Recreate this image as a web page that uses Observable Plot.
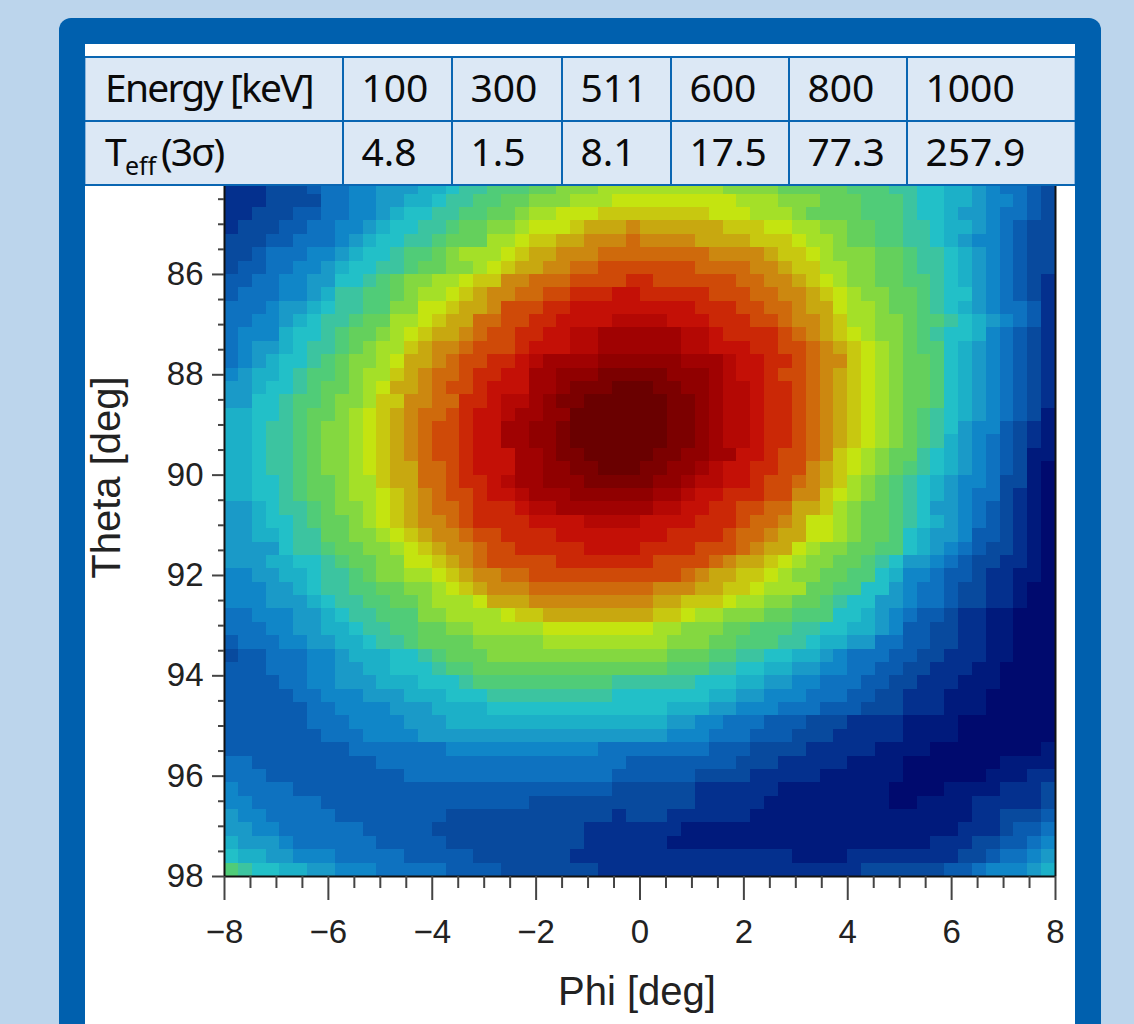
<!DOCTYPE html>
<html>
<head>
<meta charset="utf-8">
<script src="https://cdn.jsdelivr.net/npm/d3@7"></script>
<script src="https://cdn.jsdelivr.net/npm/@observablehq/plot@0.6"></script>
<style>
html,body{margin:0;padding:0;width:1134px;height:1024px;overflow:hidden;background:#bcd5ec;}
#panel{position:absolute;left:59px;top:18px;width:1042px;height:1030px;background:#0060ae;border-radius:12px;}
#inner{position:absolute;left:85px;top:44px;width:990px;height:980px;background:#fff;}
#tbl{position:absolute;left:0;top:12px;width:989px;height:130px;border-collapse:collapse;table-layout:fixed;font-family:"Noto Sans",sans-serif;font-size:39px;color:#0a0a0a;background:#dce8f5;}
#tbl td{border:2px solid #0a66b2;padding:0 0 5px 18px;height:63px;line-height:1;white-space:nowrap;box-sizing:border-box;}
#tbl tr td:first-child{border-left:1px solid #8fb6dc;padding-left:19px;letter-spacing:-1.8px;}
#tbl tr td:last-child{border-right:1px solid #8fb6dc;}
#tbl sub{font-size:25px;line-height:0;letter-spacing:0;}
#chart{position:absolute;left:0;top:142px;}
#chart svg{display:block;background:#fff;}
</style>
</head>
<body>
<div id="panel"></div>
<div id="inner">
  <table id="tbl">
    <colgroup id="cols"></colgroup>
    <tbody id="tb"></tbody>
  </table>
  <div id="chart"></div>
</div>
<script>
const energies = ["100","300","511","600","800","1000"];
const teff = ["4.8","1.5","8.1","17.5","77.3","257.9"];
const tableColumnWidths = [257,109,110,109,118,118,168];

const xMajorTicks = [-8,-6,-4,-2,0,2,4,6,8];
const xMinorTicks = [-7.5,-7,-6.5,-5.5,-5,-4.5,-3.5,-3,-2.5,-1.5,-1,-0.5,0.5,1,1.5,2.5,3,3.5,4.5,5,5.5,6.5,7,7.5];
const yMajorTicks = [86,88,90,92,94,96,98];
const yMinorTicks = [84.5,85,85.5,86.5,87,87.5,88.5,89,89.5,90.5,91,91.5,92.5,93,93.5,94.5,95,95.5,96.5,97,97.5];

const levelCodes = "abcdefghijklmnopqrstuvwAxyBz".split("");
const levelColors = ["#000a6e","#001a7c","#04308e","#084a9e","#0a5cb0","#0e72c0","#1086c8","#1a9ac8","#1cb0c8","#22c0c8","#3cc4a0","#50cc78","#64d05c","#84d840","#a4e028","#c4e410","#c8c810","#c8a810","#cc8810","#cf6a0c","#cf4a08","#cb2806","#c41006","#b40804","#a00202","#900000","#7c0000","#6a0000"];

// Intensity level per bin. Top visible row first; Phi -8..0 then 0..8.
const rowsLeft = [
"cccdddeffgghhhiijkklllmmnnnooo",
"cccddddffgghhiijkkllmmnnnooopp",
"ccdddeeffgghijjkkllmmnoopppqqq",
"cdddeeffgghijjkklmmnnopppqrrrs",
"dddeefffghijjkklmmmoopqqrrssst",
"ddefffgghijjkllmnooopqrrsssttt",
"deeffgghijjkklmmnnopqrrssttuuu",
"eeffgghhjjklmnnoopqqsstttuuuuv",
"efffgghikkllmnoopqrssttuuvvvww",
"fffghhijkkllnnppqrrsuuuvvwwwww",
"ffgghijkklmmoopqrrttuuvvwwwwAA",
"fgggijjklmmnopqrrstuuvvwwAAxxx",
"fghhijkklmnooqrsstuuuvwwwAAxxx",
"fghijjklmnnoprrstuuvvwAxxxxyyy",
"ghiijkllmnooqrsttuvvwwxxyyyBBB",
"hhijjklmmnoprrstuuvwwwxxyBBBzz",
"hhjjkllmnnoqqssttvvwAAxyBBzzzz",
"iijjklmmnopqrsttuvwwAxxyyzzzzz",
"iijkklmnnopqrstuuvwwxxyyBzzzzz",
"iijkklmnnopqrstuuvwwxxyyBzzzzz",
"iijkklmnnopqrstuuvwwwxxyBBzzzz",
"iijkklmnnopqrrttuvwwwxxyyBBzzz",
"iijjklmmnooqrrttuvvwAxxyyyBBBB",
"iijjklmmnoopqrstuuvwwAxxxyyyyy",
"hhijkklmnnopqrsttuvvvwAAxxxxxx",
"hhijjklmmnopqrsstuvvvvwwwwAAAA",
"hhiijkkmmnnopqrsstuuvvvvwwwwww",
"hhhhjkklmmnnopqrsstuuvvvvvwwww",
"hhhiijjklmmnnppqrstuuuuuvvvvvv",
"gghhiijkklmnnoopqrssttuuuuuuuu",
"ggghhijkkllmmnnopqrssstttttttt",
"ggghhhijkkllmmnoooprrrssssssss",
"ffggghhijkklllnnoooopqqrrrrrrr",
"fffgghhiijkkllmmnnoooooppppppp",
"efffgghhiijkklmmmmnnnnnooooooo",
"deefffgghiiijjklmmmnnnnnnnnnnn",
"eeefffgghhiijjjkllmmmmmmmmmmmm",
"eeeeffgghhhiiijjjkllllllllllkk",
"eeeeeffggghhhiiijjjkkkkkkkkkjj",
"eeeeeeffgggghhhiiiijjjjjjjjjjj",
"eeeeeefffgggghhhiiiiiiiiiiiiii",
"eeeeeeefffgggghhhhhhhhhhhhhhhh",
"eeeeeeeeefffffffgggggggggggfff",
"ffeeeeeeeeeffffffffffffffffffe",
"fffeeeeeeeeeefffffffffffffffee",
"gffffeeeeeeeeeeeeeeeeeeeeeeedd",
"ggfffffeeeeeeeeeeeeeeedddddddd",
"hggfffffeeeeeeeeddddddddddddcd",
"hhggffffffeeeeedddddddddddcccc",
"ihhhgffffffeeeeeddddddddddcccc",
"jiihhgggfffffeeeeedddddddccccc",
"lkjjiihhgggfffffeeeedddddddccc"
];
const rowsRight = [
"oooooonnnnmmmmmlllkkjjiihgffed",
"pppppppooonnnmmmlllkjjiihggfed",
"qqqqqpppooonmmmmlllkjjihhgffed",
"rrrrrrqqqppoonnmmllkkjiihgfedd",
"ssssrrrrqqqpoonmmllkkjihggfedd",
"tttttssssrqqponnnmmlkkjihgfedd",
"uuuuttttssrqqoonnmmlkkjihgfedd",
"vuuuuuuttssrqponnmmllkjihgfedc",
"vvvvvuuuttssrqponnmmlkjjhgfedc",
"wwwwvvvuuttsrrpoonmmlkjihgffec",
"AAwwwvvvuutssrqoonnmllkjihgfec",
"xxxAAwvvvvutsrqponnmlkjjigfedc",
"xxxAAwwwvvuutsrqponmlljihgfedc",
"yyyxxxAwwvvutssqponmmljihgfedc",
"BByyyxAwwvuutsrqponmmljihgfedc",
"zBByyxAAwvvutsrqponmmljihgfedc",
"zzBByxAAwvvutsrqponmmljihgfedc",
"zzBByxAAwvvutsrqponmlkjihgfedb",
"zzBByxAAwvvutsrqponmlkjhggedcb",
"zzBByxAAwvvutsrqponmlkihgfedcb",
"zBByyxxwwvuutsqponmmkjihgfedbb",
"BByyxAwwvvuusrqponmlkjihgfedba",
"ByyxAAwwvuutsrqonmlkjihggfddba",
"yxxAwwvvvuussqponmlkjihgffdcba",
"xAAwwvvuuttrrqonmmlkjhhgfedcba",
"wwwwvvvuttsrpponmmlkjihgfedcba",
"wwvvvvuttsrrpponmmljihhgeedcba",
"vvvvuuutsrrponnmmlljihgfeddcba",
"vuuuutsrrqponnmmlkjhhgfeddccba",
"uuutsrrqqponnmmlljiggfeedccbba",
"tsssrrqqpooommlljjhgffeddccbaa",
"srrqqqpoonnmmlkjjhhgffeddccbaa",
"rqqpoonnnmmllljjihgfeedccbbaaa",
"poonnnmmlllkkjjiihgeeddccbbaaa",
"oonnnmmlllkkjiihhffeeddccbbaaa",
"nnmmmllkkjjiihgfffeeddcccbbaaa",
"mmlllkkjjiihhggffeeddcccbbaaaa",
"kkkkjjjiihhggfffeeddcccbbbaaaa",
"jjjjjiihhgggfffeeddcccbbbaaaaa",
"jjiiihhgggfffeeedddcccbbbaaaaa",
"iihhggfffeeedddccccbbbbaaaaaaa",
"hhgggfffeeedddcccccbbbbaaaaaaa",
"fffffeeeddddcccccbbbbaaaaaaaab",
"eeeeeeedddcccccbbbbaaaaaaabbbb",
"eeeeddddcccccbbbbbbaaaaaabbbcc",
"ddddccccccbbbbbbbbaaaabbbbcccd",
"ddddcccccbbbbbbbbbaabbbbcccccd",
"ddccccccbbbbbbbbbbbbbbbbccddde",
"cccbbbbbbbbbbbbbbbbbbbbcccdeef",
"ccbbbbbbbbbbbbbbbbbbbcccddeefg",
"cccccccccccbbbbccccccccddeffgh",
"ccccccccccccccccddddddeefggghi"
];

const binWidth = 16/60;
const cells = [];
rowsLeft.forEach((left, r) => {
  const row = left + rowsRight[r];
  const k = rowsLeft.length - 1 - r;
  for (let c = 0; c < row.length; c++) {
    cells.push({
      phi0: -8 + c*binWidth, phi1: -8 + (c+1)*binWidth,
      theta0: 98 - k*binWidth, theta1: 98 - (k+1)*binWidth,
      level: row[c]
    });
  }
});

// table
const cg = document.getElementById("cols");
tableColumnWidths.forEach(w => { const c = document.createElement("col"); c.style.width = w + "px"; cg.appendChild(c); });
const tb = document.getElementById("tb");
tb.innerHTML =
  "<tr><td>Energy [keV]</td>" + energies.map(v => `<td>${v}</td>`).join("") + "</tr>" +
  "<tr><td>T<sub>eff</sub>\u2009(3σ)</td>" + teff.map(v => `<td>${v}</td>`).join("") + "</tr>";

const minusFormat = d => String(d).replace("-", "\u2212");
const plot = Plot.plot({
  width: 990, height: 838,
  marginLeft: 139, marginRight: 20, marginTop: 0, marginBottom: 148,
  style: {fontFamily: "'Liberation Sans', sans-serif", color: "#222", background: "#fff", overflow: "visible"},
  x: {domain: [-8, 8], label: null},
  y: {domain: [98, 84.247], label: null},
  color: {type: "ordinal", domain: levelCodes, range: levelColors},
  marks: [
    Plot.rect(cells, {x1: "phi0", x2: "phi1", y1: "theta0", y2: "theta1", fill: "level", clip: "frame", shapeRendering: "crispEdges"}),
    Plot.ruleX([-8, 8], {stroke: "#111", strokeWidth: 2}),
    Plot.ruleY([98], {stroke: "#111", strokeWidth: 2}),
    Plot.axisX({ticks: xMajorTicks, anchor: "bottom", tickSize: 24, tickPadding: 19, tickFormat: minusFormat, fontSize: 33, strokeWidth: 2, stroke: "#444", fill: "#222", label: null}),
    Plot.axisX({ticks: xMinorTicks, anchor: "bottom", tickSize: 12, tickFormat: () => "", strokeWidth: 2, stroke: "#444", label: null}),
    Plot.axisY({ticks: yMajorTicks, anchor: "left", tickSize: 12, tickPadding: 9, fontSize: 33, strokeWidth: 2, stroke: "#444", fill: "#222", label: null}),
    Plot.axisY({ticks: yMinorTicks, anchor: "left", tickSize: 6, tickFormat: () => "", strokeWidth: 2, stroke: "#444", label: null}),
    Plot.text(["Phi [deg]"], {frameAnchor: "bottom", dx: -3, dy: 128, fontSize: 40, fill: "#222"}),
    Plot.text(["Theta [deg]"], {frameAnchor: "left", textAnchor: "middle", dx: -117, dy: -54, rotate: -90, fontSize: 40, fill: "#222"})
  ]
});
document.getElementById("chart").appendChild(plot);
</script>
</body>
</html>
